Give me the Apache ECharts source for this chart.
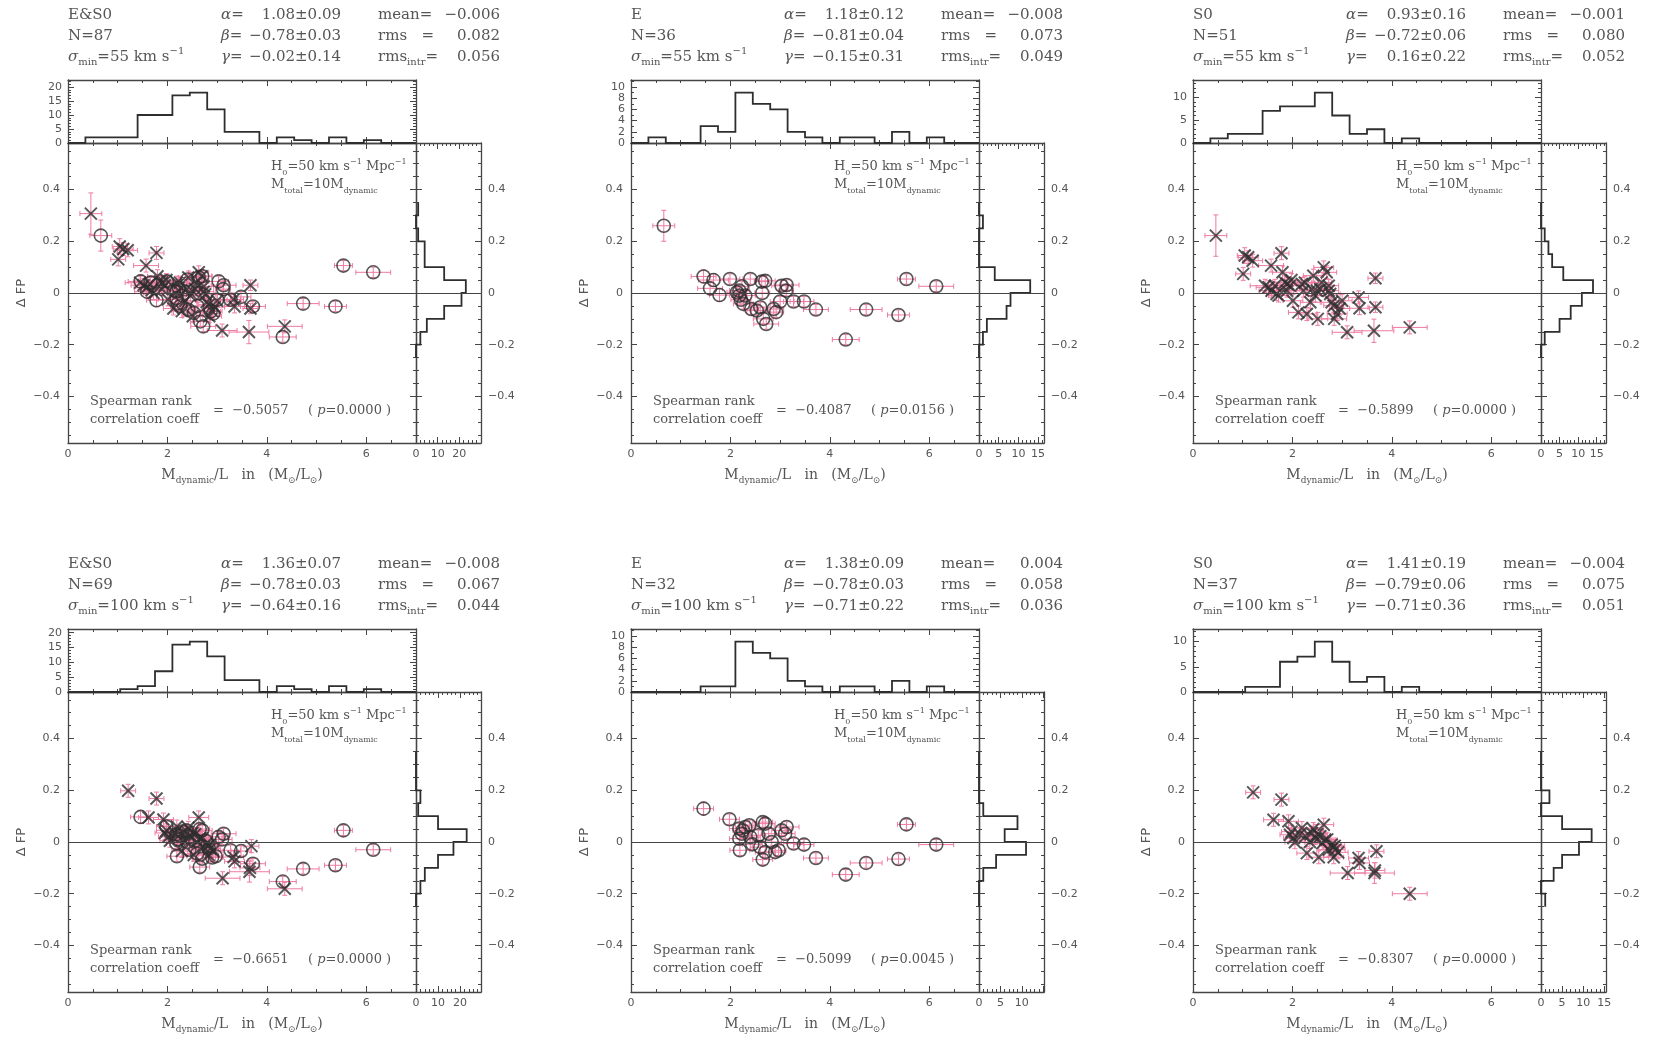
<!DOCTYPE html>
<html>
<head>
<meta charset="utf-8">
<title>FP residuals vs dynamical M/L</title>
<script src="https://cdn.jsdelivr.net/npm/echarts@6/dist/echarts.min.js"></script>
<style>
  html, body { margin: 0; padding: 0; background: #fff; }
  #chart { width: 1654px; height: 1040px; }
</style>
</head>
<body>
<div id="chart"></div>
<script>
// ---------------- DATA ----------------
// E galaxies, sigma_min = 55 km/s : M/L, its error, dFP (E fit), dFP error, dFP (E&S0 fit)
const eMl55 = [0.66, 1.46, 1.66, 1.59, 1.78, 1.99, 2.18, 2.18, 2.21, 2.23, 2.26, 2.40, 2.42, 2.53, 2.63, 2.70, 2.64, 2.66,
  2.72, 2.87, 2.92, 3.00, 3.03, 3.13, 3.12, 3.27, 3.48, 3.72, 4.32, 4.73, 5.38, 5.54, 6.14, 2.13, 2.60, 2.30];
const eMlErr55 = [0.22, 0.25, 0.30, 0.25, 0.20, 0.20, 0.20, 0.15, 0.20, 0.15, 0.20, 0.15, 0.15, 0.20, 0.15, 0.20, 0.15, 0.20,
  0.25, 0.20, 0.15, 0.20, 0.20, 0.25, 0.15, 0.20, 0.20, 0.25, 0.27, 0.32, 0.22, 0.18, 0.35, 0.20, 0.20, 0.20];
const eFp55 = [0.260, 0.064, 0.050, 0.018, -0.008, 0.054, 0.009, -0.010, -0.026, 0.026, -0.042, 0.054, -0.062, -0.068, 0.044, 0.047, 0.000, -0.100,
  -0.120, -0.062, -0.074, -0.033, 0.028, 0.031, 0.009, -0.033, -0.033, -0.064, -0.180, -0.064, -0.085, 0.054, 0.026, 0.003, -0.055, -0.010];
const eFpErr55 = [0.060, 0.025, 0.025, 0.025, 0.025, 0.020, 0.020, 0.020, 0.020, 0.020, 0.020, 0.020, 0.020, 0.020, 0.020, 0.020, 0.020, 0.020,
  0.020, 0.020, 0.020, 0.020, 0.020, 0.020, 0.020, 0.020, 0.020, 0.020, 0.020, 0.020, 0.020, 0.020, 0.020, 0.020, 0.020, 0.020];
const eFpJoint55 = [0.222, 0.045, 0.040, 0.005, -0.028, 0.045, 0.005, -0.020, -0.040, 0.020, -0.050, 0.052, -0.065, -0.077, 0.060, 0.065, 0.000, -0.110,
  -0.129, -0.071, -0.080, -0.026, 0.045, 0.030, 0.015, -0.026, -0.015, -0.052, -0.170, -0.041, -0.052, 0.106, 0.080, 0.010, -0.050, -0.010];

// S0 galaxies, sigma_min = 55 km/s
const s0Ml55 = [0.46, 1.01, 1.04, 1.11, 1.20, 1.78, 1.57, 1.45, 1.52, 1.58, 1.65, 1.68, 1.80, 1.85, 1.89, 1.95, 2.01, 2.12, 2.19, 2.29,
  2.39, 2.42, 2.46, 2.51, 2.56, 2.59, 2.63, 2.69, 2.73, 2.79, 2.83, 2.84, 2.90, 3.10, 3.33, 3.35, 3.67, 3.67, 3.64, 4.36,
  2.49, 2.36, 2.76, 1.72, 1.89, 2.22, 2.73, 1.98, 2.25, 2.95, 3.00];
const s0MlErr55 = [0.22, 0.15, 0.15, 0.20, 0.20, 0.15, 0.25, 0.30, 0.25, 0.25, 0.20, 0.20, 0.20, 0.25, 0.20, 0.20, 0.20, 0.20, 0.20, 0.20,
  0.25, 0.20, 0.20, 0.20, 0.20, 0.20, 0.20, 0.20, 0.20, 0.20, 0.20, 0.25, 0.20, 0.30, 0.20, 0.20, 0.15, 0.15, 0.40, 0.35,
  0.20, 0.20, 0.20, 0.20, 0.20, 0.20, 0.20, 0.20, 0.20, 0.20, 0.20];
const s0Fp55 = [0.222, 0.074, 0.145, 0.138, 0.125, 0.154, 0.106, 0.028, 0.022, 0.009, 0.028, -0.004, 0.080, 0.041, 0.009, 0.028, -0.030, -0.075, 0.035, -0.081,
  0.015, 0.067, -0.010, -0.100, 0.015, 0.041, 0.099, 0.080, 0.028, -0.036, -0.049, -0.100, -0.081, -0.152, -0.017, -0.059, 0.057, -0.055, -0.146, -0.133,
  0.009, -0.036, -0.004, -0.010, 0.035, 0.009, 0.009, 0.050, 0.040, -0.060, -0.030];
const s0FpErr55 = [0.080, 0.025, 0.030, 0.025, 0.025, 0.025, 0.025, 0.025, 0.025, 0.025, 0.025, 0.025, 0.025, 0.025, 0.025, 0.025, 0.025, 0.025, 0.025, 0.025,
  0.025, 0.025, 0.025, 0.025, 0.025, 0.025, 0.025, 0.025, 0.025, 0.025, 0.025, 0.025, 0.025, 0.025, 0.025, 0.025, 0.020, 0.020, 0.045, 0.025,
  0.025, 0.025, 0.025, 0.025, 0.025, 0.025, 0.025, 0.025, 0.025, 0.025, 0.025];
const s0FpJoint55 = [0.307, 0.130, 0.180, 0.170, 0.165, 0.155, 0.106, 0.040, 0.030, 0.020, 0.035, 0.010, 0.065, 0.045, 0.015, 0.030, -0.025, -0.060, 0.040, -0.070,
  0.015, 0.060, -0.010, -0.090, 0.015, 0.040, 0.080, 0.065, 0.025, -0.035, -0.045, -0.090, -0.070, -0.145, -0.025, -0.052, 0.030, -0.060, -0.151, -0.129,
  0.010, -0.030, -0.005, 0.000, 0.040, 0.010, 0.005, 0.050, 0.040, -0.055, -0.030];

// E galaxies, sigma_min = 100 km/s
const eMl100 = [1.46, 1.98, 2.18, 2.23, 2.18, 2.19, 2.30, 2.38, 2.40, 2.44, 2.56, 2.65, 2.70, 2.65, 2.70, 2.77,
  2.83, 2.90, 2.97, 3.03, 3.13, 3.10, 3.27, 3.48, 3.72, 4.32, 4.73, 5.38, 5.54, 6.14, 2.25, 2.60];
const eMlErr100 = [0.20, 0.20, 0.20, 0.15, 0.20, 0.20, 0.20, 0.15, 0.20, 0.20, 0.15, 0.20, 0.20, 0.20, 0.20, 0.15,
  0.20, 0.20, 0.15, 0.20, 0.25, 0.20, 0.20, 0.20, 0.25, 0.27, 0.32, 0.22, 0.18, 0.35, 0.20, 0.20];
const eFp100 = [0.129, 0.088, 0.052, 0.032, 0.013, -0.032, 0.058, 0.065, 0.019, -0.009, 0.026, 0.077, 0.071, -0.068, -0.039, 0.032,
  0.000, -0.039, -0.032, 0.045, 0.058, 0.032, -0.006, -0.010, -0.062, -0.126, -0.081, -0.066, 0.068, -0.010, 0.045, -0.020];
const eFpErr100 = [0.025, 0.020, 0.020, 0.020, 0.020, 0.020, 0.020, 0.020, 0.020, 0.020, 0.020, 0.020, 0.020, 0.020, 0.020, 0.020,
  0.020, 0.020, 0.020, 0.020, 0.020, 0.020, 0.020, 0.020, 0.020, 0.020, 0.020, 0.020, 0.020, 0.020, 0.020, 0.020];
const eFpJoint100 = [0.097, 0.060, 0.030, 0.010, -0.005, -0.055, 0.040, 0.045, 0.000, -0.030, 0.005, 0.050, 0.045, -0.097, -0.065, 0.005,
  -0.025, -0.060, -0.055, 0.020, 0.032, 0.010, -0.032, -0.035, -0.084, -0.153, -0.104, -0.090, 0.045, -0.030, 0.025, -0.045];

// S0 galaxies, sigma_min = 100 km/s
const s0Ml100 = [1.21, 1.78, 1.62, 1.92, 1.95, 2.02, 2.05, 2.19, 2.26, 2.29, 2.39, 2.46, 2.53, 2.56, 2.63, 2.66, 2.73, 2.79, 2.83,
  2.86, 3.11, 3.33, 3.35, 3.69, 3.65, 4.36, 1.98, 2.15, 2.35, 2.42, 2.50, 2.60, 2.70, 2.85, 2.92, 2.82, 3.66];
const s0MlErr100 = [0.15, 0.15, 0.20, 0.20, 0.20, 0.20, 0.20, 0.20, 0.20, 0.20, 0.20, 0.20, 0.20, 0.20, 0.20, 0.20, 0.20, 0.20, 0.20,
  0.20, 0.35, 0.20, 0.20, 0.15, 0.40, 0.35, 0.20, 0.20, 0.20, 0.20, 0.20, 0.20, 0.20, 0.20, 0.20, 0.20, 0.20];
const s0Fp100 = [0.192, 0.164, 0.086, 0.080, 0.028, 0.015, -0.001, 0.054, 0.022, -0.043, 0.035, 0.015, -0.059, 0.022, 0.067, 0.009, -0.030, -0.010, -0.059,
  -0.030, -0.120, -0.062, -0.081, -0.036, -0.120, -0.200, 0.040, 0.030, 0.000, 0.050, 0.030, -0.005, 0.010, -0.015, -0.040, -0.020, -0.110];
const s0FpErr100 = [0.025, 0.025, 0.025, 0.025, 0.025, 0.025, 0.025, 0.025, 0.025, 0.025, 0.025, 0.025, 0.025, 0.025, 0.025, 0.025, 0.025, 0.025, 0.025,
  0.025, 0.025, 0.025, 0.025, 0.025, 0.040, 0.025, 0.025, 0.025, 0.025, 0.025, 0.025, 0.025, 0.025, 0.025, 0.025, 0.025, 0.030];
const s0FpJoint100 = [0.198, 0.168, 0.095, 0.087, 0.035, 0.020, 0.005, 0.060, 0.030, -0.035, 0.040, 0.020, -0.050, 0.030, 0.095, 0.015, -0.020, -0.005, -0.050,
  -0.025, -0.140, -0.058, -0.075, -0.016, -0.115, -0.181, 0.045, 0.035, 0.005, 0.055, 0.035, 0.000, 0.015, -0.010, -0.035, -0.015, -0.100];

// M/L histograms: 20 bins of 0.35 starting at 0
const topBinWidth = 0.35;
const mlHistES55 = [0, 2, 2, 2, 10, 10, 17, 18, 12, 4, 4, 0, 2, 1, 0, 2, 0, 1, 0, 0];
const mlHistE55 = [0, 1, 0, 0, 3, 2, 9, 7, 6, 2, 1, 0, 1, 1, 0, 2, 0, 1, 0, 0];
const mlHistS055 = [0, 1, 2, 2, 7, 8, 8, 11, 6, 2, 3, 0, 1, 0, 0, 0, 0, 0, 0, 0];
const mlHistES100 = [0, 0, 0, 1, 2, 7, 16, 17, 12, 4, 4, 0, 2, 1, 0, 2, 0, 1, 0, 0];
const mlHistE100 = [0, 0, 0, 0, 1, 1, 9, 7, 6, 2, 1, 0, 1, 1, 0, 2, 0, 1, 0, 0];
const mlHistS0100 = [0, 0, 0, 1, 1, 6, 7, 10, 6, 2, 3, 0, 1, 0, 0, 0, 0, 0, 0, 0];

// dFP histograms: 12 bins of 0.05 starting at -0.25
const fpBinStart = -0.25, fpBinWidth = 0.05;
const fpHistES55 = [0, 2, 5, 13, 21, 23, 13, 4, 4, 1, 0, 1];
const fpHistE55 = [0, 1, 2, 7, 8, 13, 4, 0, 0, 0, 1, 0];
const fpHistS055 = [0, 1, 5, 8, 11, 14, 6, 3, 2, 1, 0, 0];
const fpHistES100 = [0, 2, 4, 10, 17, 23, 10, 1, 2, 0, 0, 0];
const fpHistE100 = [0, 0, 1, 4, 11, 6, 9, 1, 0, 0, 0, 0];
const fpHistS0100 = [1, 0, 3, 5, 9, 12, 5, 0, 2, 0, 0, 0];

// panel texts
const panelNames = ['E&S0', 'E', 'S0', 'E&S0', 'E', 'S0'];
const panelN = [87, 36, 51, 69, 32, 37];
const sigmaMin = [55, 55, 55, 100, 100, 100];
const alphaFit = ['1.08±0.09', '1.18±0.12', '0.93±0.16', '1.36±0.07', '1.38±0.09', '1.41±0.19'];
const betaFit = ['−0.78±0.03', '−0.81±0.04', '−0.72±0.06', '−0.78±0.03', '−0.78±0.03', '−0.79±0.06'];
const gammaFit = ['−0.02±0.14', '−0.15±0.31', '0.16±0.22', '−0.64±0.16', '−0.71±0.22', '−0.71±0.36'];
const meanRes = ['−0.006', '−0.008', '−0.001', '−0.008', '0.004', '−0.004'];
const rmsRes = ['0.082', '0.073', '0.080', '0.067', '0.058', '0.075'];
const rmsIntr = ['0.056', '0.049', '0.052', '0.044', '0.036', '0.051'];
const spearman = ['−0.5057', '−0.4087', '−0.5899', '−0.6651', '−0.5099', '−0.8307'];
const spearmanP = ['0.0000', '0.0156', '0.0000', '0.0000', '0.0045', '0.0000'];

// ---------------- LAYOUT ----------------
const colLeft = [68, 631, 1193];
const rowTop = [143, 692];
const MAIN_W = 348, MAIN_H = 300, TOP_H = 63, SIDE_W = 65;
const FP_LIM = 0.58;

const INK = '#454545', TXT = '#555', MARK = '#2e2e2e', PINK = '#ee7aa2';
const SERIF = "'DejaVu Serif', serif";
const SANS = "'DejaVu Sans', sans-serif";
const CROSS = 'path://M0,0L10,10M10,0L0,10';

const E = (ml, mlErr, fp, fpErr) => ({ ml, mlErr, fp, fpErr, cross: false });
const S = (ml, mlErr, fp, fpErr) => ({ ml, mlErr, fp, fpErr, cross: true });

const panels = [
  { groups: [E(eMl55, eMlErr55, eFpJoint55, eFpErr55), S(s0Ml55, s0MlErr55, s0FpJoint55, s0FpErr55)],
    top: mlHistES55, right: fpHistES55, topMax: 22.5, topMajor: 5, rightMax: 30, rightMajor: 10, rightMinor: 2, rightLabels: [0, 10, 20] },
  { groups: [E(eMl55, eMlErr55, eFp55, eFpErr55)],
    top: mlHistE55, right: fpHistE55, topMax: 11.25, topMajor: 2, rightMax: 16.5, rightMajor: 5, rightMinor: 1, rightLabels: [0, 5, 10, 15] },
  { groups: [S(s0Ml55, s0MlErr55, s0Fp55, s0FpErr55)],
    top: mlHistS055, right: fpHistS055, topMax: 13.75, topMajor: 5, rightMax: 17.5, rightMajor: 5, rightMinor: 1, rightLabels: [0, 5, 10, 15] },
  { groups: [E(eMl100, eMlErr100, eFpJoint100, eFpErr100), S(s0Ml100, s0MlErr100, s0FpJoint100, s0FpErr100)],
    top: mlHistES100, right: fpHistES100, topMax: 21.25, topMajor: 5, rightMax: 29.5, rightMajor: 10, rightMinor: 2, rightLabels: [0, 10, 20] },
  { groups: [E(eMl100, eMlErr100, eFp100, eFpErr100)],
    top: mlHistE100, right: fpHistE100, topMax: 11.25, topMajor: 2, rightMax: 15.2, rightMajor: 5, rightMinor: 1, rightLabels: [0, 5, 10] },
  { groups: [S(s0Ml100, s0MlErr100, s0Fp100, s0FpErr100)],
    top: mlHistS0100, right: fpHistS0100, topMax: 12.5, topMajor: 5, rightMax: 15.4, rightMajor: 5, rightMinor: 1, rightLabels: [0, 5, 10, 15] }
];

// ---------------- HELPERS ----------------
const grids = [], xAxes = [], yAxes = [], series = [], graphics = [];

function steps(a, b, s) {
  const out = [];
  for (let v = a; v <= b + 1e-9; v += s) out.push(+v.toFixed(4));
  return out;
}
const fmt = v => String(+(+v).toFixed(2)).replace('-', '−');

function addAxisSet(dim, g, r) {
  const list = dim === 'x' ? xAxes : yAxes;
  const sides = dim === 'x' ? ['bottom', 'top'] : ['left', 'right'];
  const first = list.length;
  sides.forEach(side => {
    [[r.major, 6], [r.minor, 3]].forEach(([vals, len], k) => {
      const showLabel = k === 0 && r.labelSide === side;
      list.push({
        type: 'value', gridIndex: g, position: side, min: r.min, max: r.max,
        axisLine: { show: k === 0, onZero: false, lineStyle: { color: INK, width: 1.3 } },
        axisTick: { show: true, inside: true, length: len, customValues: vals, lineStyle: { color: INK, width: 1 } },
        axisLabel: showLabel
          ? { show: true, customValues: r.labels || vals, margin: r.margin || 6, color: TXT,
              fontFamily: SANS, fontSize: 11, formatter: fmt }
          : { show: false },
        splitLine: { show: false },
        minorTick: { show: false }
      });
    });
  });
  return first;
}

function box(left, top, width, height, xr, yr) {
  grids.push({ left, top, width, height, show: false });
  const g = grids.length - 1;
  return { x: addAxisSet('x', g, xr), y: addAxisSet('y', g, yr) };
}

function richFor(size, family) {
  const s = Math.round(size * 0.65);
  return {
    g: { fontSize: size, fontFamily: family, fontStyle: 'italic', fill: TXT, lineHeight: size + 6 },
    sub: { fontSize: s, fontFamily: family, fill: TXT, lineHeight: s, verticalAlign: 'bottom' },
    sup: { fontSize: s, fontFamily: family, fill: TXT, lineHeight: s, verticalAlign: 'top' }
  };
}

function txt(x, y, text, size, align, extra) {
  const family = (extra && extra.family) || SERIF;
  graphics.push(Object.assign({
    type: 'text', x, y, silent: true,
    style: {
      text, fill: TXT, fontSize: size, fontFamily: family, lineHeight: size + 6,
      align: align || 'left', verticalAlign: 'middle', rich: richFor(size, family)
    }
  }, extra && extra.el));
}

function renderErr(params, api) {
  const x = api.value(0), y = api.value(1), ex = api.value(2), ey = api.value(3);
  const c = api.coord([x, y]);
  const l = api.coord([x - ex, y])[0], r = api.coord([x + ex, y])[0];
  const t = api.coord([x, y + ey])[1], b = api.coord([x, y - ey])[1];
  const st = { stroke: PINK, lineWidth: 1 };
  const cap = 2.5;
  return {
    type: 'group',
    children: [
      { type: 'line', shape: { x1: l, y1: c[1], x2: r, y2: c[1] }, style: st },
      { type: 'line', shape: { x1: c[0], y1: t, x2: c[0], y2: b }, style: st },
      { type: 'line', shape: { x1: l, y1: c[1] - cap, x2: l, y2: c[1] + cap }, style: st },
      { type: 'line', shape: { x1: r, y1: c[1] - cap, x2: r, y2: c[1] + cap }, style: st },
      { type: 'line', shape: { x1: c[0] - cap, y1: t, x2: c[0] + cap, y2: t }, style: st },
      { type: 'line', shape: { x1: c[0] - cap, y1: b, x2: c[0] + cap, y2: b }, style: st }
    ]
  };
}

function topOutline(counts) {
  const pts = [];
  counts.forEach((c, i) => {
    pts.push([+(i * topBinWidth).toFixed(3), c], [+((i + 1) * topBinWidth).toFixed(3), c]);
  });
  return pts;
}

function rightOutline(counts) {
  const pts = [];
  counts.forEach((c, i) => {
    const lo = +(fpBinStart + i * fpBinWidth).toFixed(3);
    pts.push([c, lo], [c, +(lo + fpBinWidth).toFixed(3)]);
  });
  return pts;
}

const zeroLine = {
  silent: true, symbol: ['none', 'none'], label: { show: false }, animation: false,
  lineStyle: { color: INK, width: 1.2, type: 'solid' },
  emphasis: { disabled: true },
  data: [{ yAxis: 0 }]
};

// ---------------- BUILD PANELS ----------------
const mlMajor = steps(0, 6, 2), mlMinor = steps(0.5, 6.5, 0.5);
const fpMajor = steps(-0.4, 0.4, 0.2), fpMinor = steps(-0.55, 0.55, 0.05);

panels.forEach((p, k) => {
  const L = colLeft[k % 3], T = rowTop[Math.floor(k / 3)];

  const main = box(L, T, MAIN_W, MAIN_H,
    { min: 0, max: 7, major: mlMajor, minor: mlMinor, labelSide: 'bottom', margin: 6 },
    { min: -FP_LIM, max: FP_LIM, major: fpMajor, minor: fpMinor, labelSide: 'left', margin: 8 });

  const top = box(L, T - TOP_H, MAIN_W, TOP_H,
    { min: 0, max: 7, major: mlMajor, minor: mlMinor },
    { min: 0, max: p.topMax, major: steps(0, p.topMax, p.topMajor), minor: steps(0, p.topMax, 1), labelSide: 'left', margin: 6 });

  const side = box(L + MAIN_W, T, SIDE_W, MAIN_H,
    { min: 0, max: p.rightMax, major: steps(0, p.rightMax, p.rightMajor), minor: steps(0, p.rightMax, p.rightMinor),
      labelSide: 'bottom', labels: p.rightLabels, margin: 6 },
    { min: -FP_LIM, max: FP_LIM, major: fpMajor, minor: fpMinor, labelSide: 'right', margin: 7 });

  // error bars first, then the markers on top
  p.groups.forEach(g => {
    series.push({
      type: 'custom', xAxisIndex: main.x, yAxisIndex: main.y, silent: true, z: 2,
      renderItem: renderErr,
      data: g.ml.map((x, i) => [x, g.fp[i], g.mlErr[i], g.fpErr[i]])
    });
  });
  p.groups.forEach((g, j) => {
    const s = {
      type: 'scatter', xAxisIndex: main.x, yAxisIndex: main.y, silent: true, z: 3,
      symbol: g.cross ? CROSS : 'circle', symbolSize: g.cross ? 12 : 13,
      itemStyle: { color: 'transparent', borderColor: MARK, borderWidth: g.cross ? 2 : 1.6 },
      data: g.ml.map((x, i) => [x, g.fp[i]])
    };
    if (j === 0) s.markLine = zeroLine;
    series.push(s);
  });

  series.push({
    type: 'line', xAxisIndex: top.x, yAxisIndex: top.y, silent: true, symbol: 'none',
    lineStyle: { color: MARK, width: 1.8, join: 'miter' },
    data: topOutline(p.top)
  });
  series.push({
    type: 'line', xAxisIndex: side.x, yAxisIndex: side.y, silent: true, symbol: 'none',
    lineStyle: { color: MARK, width: 1.8, join: 'miter' },
    data: rightOutline(p.right),
    markLine: zeroLine
  });

  // header block
  txt(L, T - 128, panelNames[k], 15);
  txt(L, T - 107, 'N=' + panelN[k], 15);
  txt(L, T - 86, '{g|σ}{sub|min}=' + sigmaMin[k] + ' km s{sup|−1}', 15);
  txt(L + 153, T - 128, '{g|α}=', 15);
  txt(L + 273, T - 128, alphaFit[k], 15, 'right');
  txt(L + 153, T - 107, '{g|β}=', 15);
  txt(L + 273, T - 107, betaFit[k], 15, 'right');
  txt(L + 153, T - 86, '{g|γ}=', 15);
  txt(L + 273, T - 86, gammaFit[k], 15, 'right');
  txt(L + 310, T - 128, 'mean=', 15);
  txt(L + 432, T - 128, meanRes[k], 15, 'right');
  txt(L + 310, T - 107, 'rms   =', 15);
  txt(L + 432, T - 107, rmsRes[k], 15, 'right');
  txt(L + 310, T - 86, 'rms{sub|intr}=', 15);
  txt(L + 432, T - 86, rmsIntr[k], 15, 'right');

  // annotations inside the main box
  txt(L + 203, T + 24, 'H{sub|0}=50 km s{sup|−1} Mpc{sup|−1}', 13);
  txt(L + 203, T + 42, 'M{sub|total}=10M{sub|dynamic}', 13);
  txt(L + 22, T + 259, 'Spearman rank', 13);
  txt(L + 22, T + 277, 'correlation coeff', 13);
  txt(L + 145, T + 268, '=  ' + spearman[k], 13);
  txt(L + 240, T + 268, '( {g|p}=' + spearmanP[k] + ' )', 13);

  // axis titles
  txt(L - 46, T + MAIN_H / 2, 'Δ FP', 13, 'center', { family: SANS, el: { rotation: Math.PI / 2 } });
  txt(L + MAIN_W / 2, T + 332, 'M{sub|dynamic}/L   in   (M{sub|⊙}/L{sub|⊙})', 14, 'center');
});

const option = {
  animation: false,
  backgroundColor: '#fff',
  grid: grids,
  xAxis: xAxes,
  yAxis: yAxes,
  series: series,
  graphic: { elements: graphics }
};

echarts.init(document.getElementById('chart')).setOption(option);
</script>
</body>
</html>
